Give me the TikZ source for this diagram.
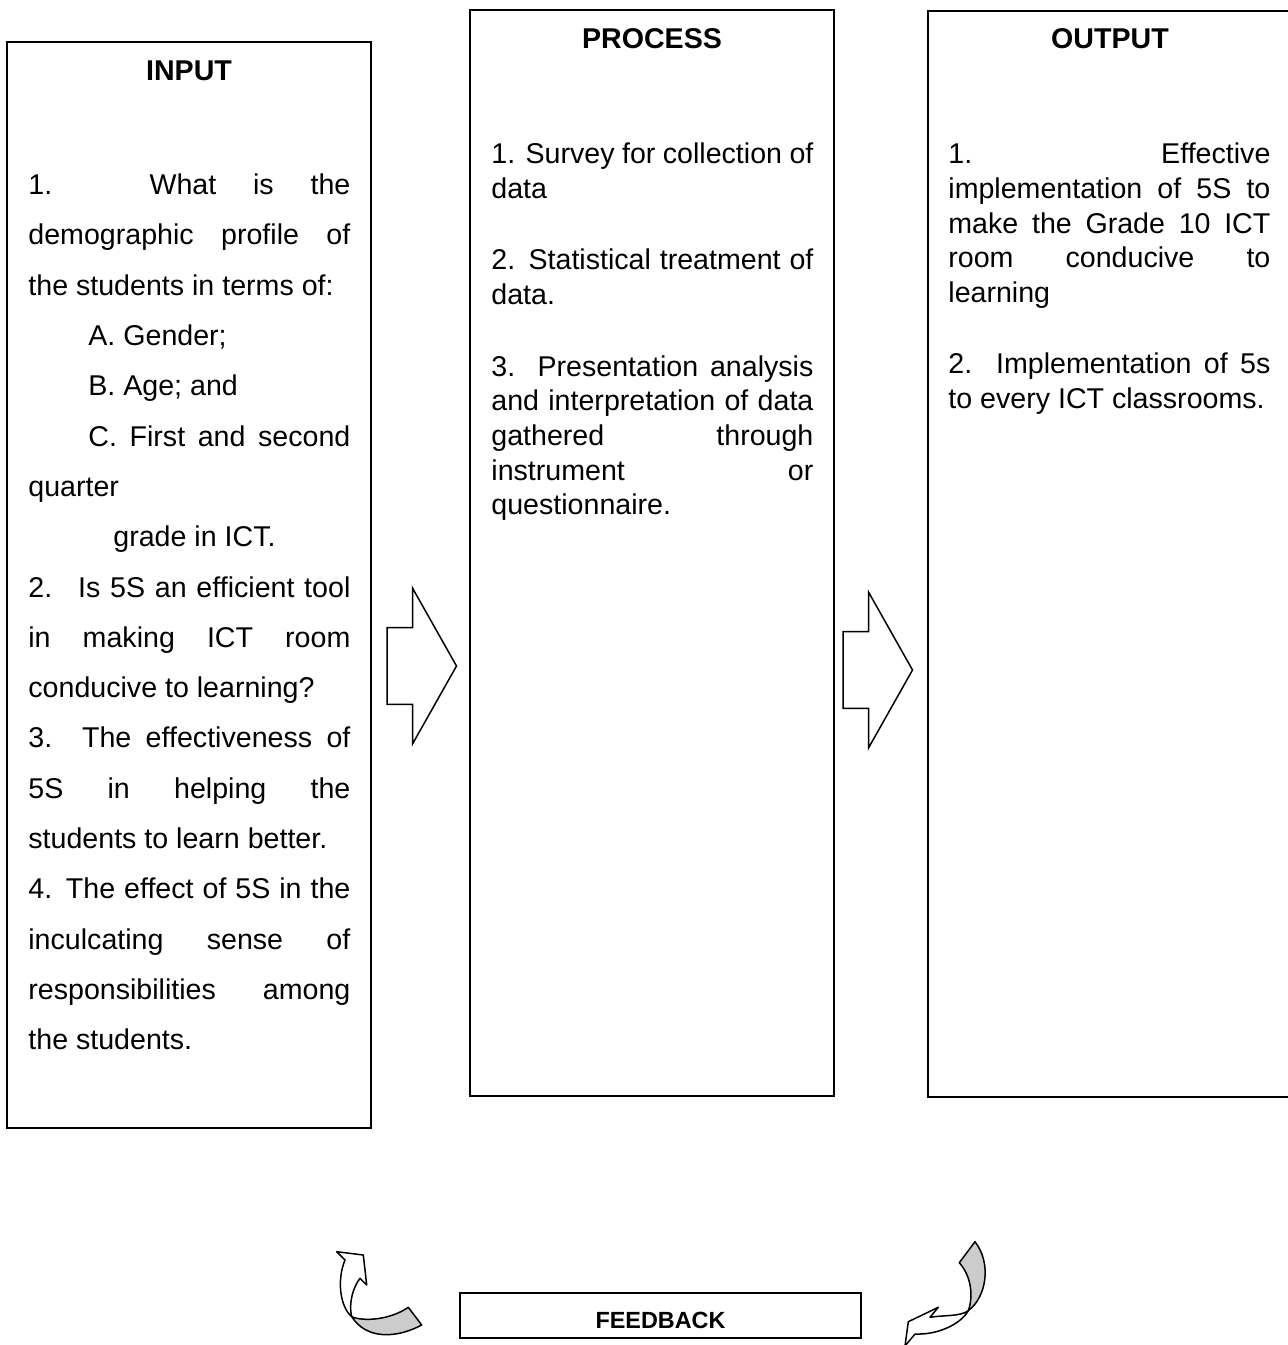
\documentclass[tikz,border=0pt]{standalone}
\usepackage{fontspec}
\setmainfont{Liberation Sans}
\usepackage{tikz}
\usetikzlibrary{calc}
\definecolor{frameBlack}{HTML}{000000}
\definecolor{ribbonGrey}{HTML}{CCCCCC}
\newcommand{\BlockArrow}[2]{
    \draw[blockArrow, shift={(#1,#2)}] (0,-38.4) -- (25.5,-38.4) -- (25.5,-78) -- (69.5,0) -- (25.5,78) -- (25.5,38.4) -- (0,38.4) -- cycle;
}
\newcommand{\ListSetup}[1]{\setlength{\parindent}{0pt}\setlength{\parskip}{#1}\hyphenpenalty=10000 }
\tikzset{
    % Boxes
    ipoBox/.style={rectangle, draw=frameBlack, line width=1pt, minimum width=182pt, minimum height=543pt, inner sep=0pt},
    ipoTitle/.style={font=\bfseries\fontsize{14.3}{17}\selectfont, anchor=base, inner sep=0pt},
    ipoText/.style={anchor=north west, inner sep=0pt, text width=161pt, align=justify, font=\fontsize{14.3}{17.35}\selectfont},
    inputText/.style={ipoText, font=\fontsize{14.3}{25.15}\selectfont},
    feedBox/.style={rectangle, draw=frameBlack, line width=1pt, minimum width=200.5pt, minimum height=22.5pt, inner sep=0pt},
    feedLabel/.style={font=\bfseries\fontsize{11.7}{14}\selectfont, anchor=base, inner sep=0pt},
    % Arrows
    blockArrow/.style={draw=frameBlack, line width=0.75pt, fill=white, line join=miter},
    curvArrow/.style={draw=frameBlack, line width=0.75pt, fill=white, line join=round},
    curvBack/.style={curvArrow, fill=ribbonGrey}
}
\begin{document}
\begin{tikzpicture}[x=0.5pt, y=-0.5pt]
    \useasboundingbox (0,0) rectangle (1288,1345);
    \clip (0,0) rectangle (1288,1345);

    % Input
    \node[ipoBox] (inputBox) at (189,585) {};
    \node[ipoTitle] (inputTitle) at (189,80) {INPUT};
    \node[inputText] (inputList) at (28,173.5) {\ListSetup{0pt}%
        1. What is the\linebreak demographic profile of\linebreak the students in terms of:\par
        \hspace*{30pt}A. Gender;\par
        \hspace*{30pt}B. Age; and\par
        \hspace*{30pt}C. First and second\linebreak quarter\par
        \hspace*{42.5pt}grade in ICT.\par
        2.~ Is 5S an efficient tool\linebreak in making ICT room\linebreak conducive to learning?\par
        3. The effectiveness of\linebreak 5S in helping the\linebreak students to learn better.\par
        4. The effect of 5S in the\linebreak inculcating sense of\linebreak responsibilities among\linebreak the students.};

    % Process
    \node[ipoBox] (processBox) at (652,553) {};
    \node[ipoTitle] (processTitle) at (652,48) {PROCESS};
    \node[ipoText] (processList) at (491,142.5) {\ListSetup{18.4pt}%
        1. Survey for collection of\linebreak data\par
        2. Statistical treatment of\linebreak data.\par
        3. Presentation analysis\linebreak and interpretation of data\linebreak gathered through\linebreak instrument or\linebreak questionnaire.};

    % Output
    \node[ipoBox] (outputBox) at (1110,554) {};
    \node[ipoTitle] (outputTitle) at (1110,48) {OUTPUT};
    \node[ipoText] (outputList) at (948,142.5) {\ListSetup{18.4pt}%
        1. Effective\linebreak implementation of 5S to\linebreak make the Grade 10 ICT\linebreak room conducive to\linebreak learning\par
        2. Implementation of 5s\linebreak to every ICT classrooms.};

    % Block arrows
    \BlockArrow{387}{666}
    \BlockArrow{843}{670}

    % Feedback
    \node[feedBox] (feedbackBox) at (660.5,1315.5) {};
    \node[feedLabel] (feedbackLabel) at (660.5,1328.3) {FEEDBACK};

    % Curved arrow, left
    \draw[curvBack] (351.7,1316.7) .. controls (366.7,1340) and (396.7,1338.3) .. (421.7,1325)
        -- (408.3,1307.3) .. controls (390,1320) and (363.3,1321.7) .. (351.7,1316.7) -- cycle;
    \draw[curvArrow] (345,1260) .. controls (336.7,1280) and (340,1306.7) .. (351.7,1316.7)
        .. controls (348.3,1303.3) and (353.3,1286.7) .. (360,1278.3)
        -- (366.7,1285) -- (363.3,1255) -- (336.7,1251.7) -- cycle;

    % Curved arrow, right
    \draw[curvBack] (975,1241.7) .. controls (991.7,1263.3) and (986.7,1296.7) .. (968.3,1310.7)
        .. controls (973.3,1296.7) and (971.7,1276.7) .. (959.3,1262.7) -- cycle;
    \draw[curvArrow] (968.3,1310.7) .. controls (960,1316.7) and (943.3,1315) .. (930,1317.3)
        -- (938.3,1307.3) -- (908.3,1321.7) -- (905,1346) -- (915,1334)
        .. controls (936.7,1335) and (960,1325) .. (968.3,1310.7) -- cycle;
\end{tikzpicture}
\end{document}
